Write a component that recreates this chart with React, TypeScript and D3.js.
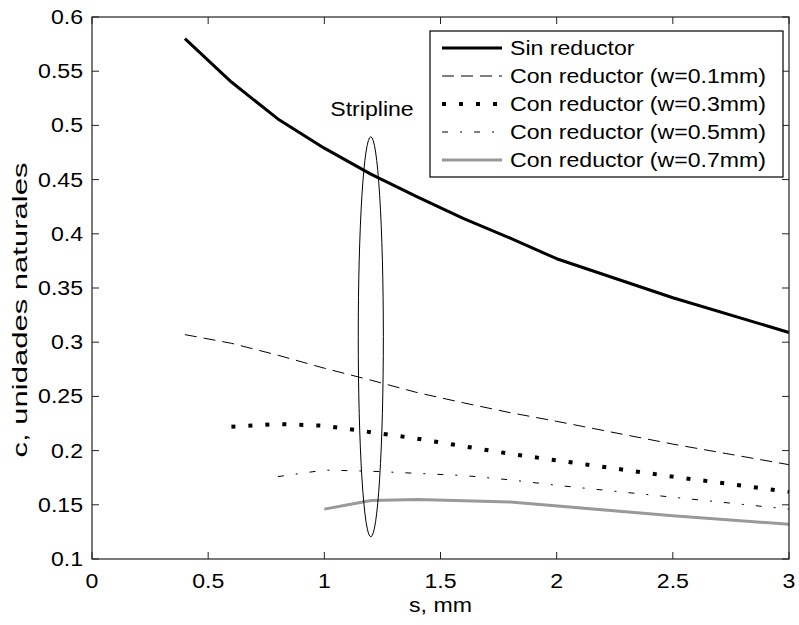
import React from "react";
import * as d3 from "d3";

const sinX = [0.4, 0.6, 0.8, 1.0, 1.2, 1.4, 1.6, 1.8, 2.0, 2.5, 3.0];
const sinY = [0.58, 0.54, 0.506, 0.479, 0.455, 0.434, 0.414, 0.396, 0.377, 0.341, 0.309];

const w01X = [0.4, 0.6, 0.8, 1.0, 1.2, 1.4, 1.6, 1.8, 2.0, 2.5, 3.0];
const w01Y = [0.307, 0.299, 0.288, 0.276, 0.265, 0.2535, 0.244, 0.235, 0.227, 0.206, 0.187];

const w03X = [0.6, 0.8, 1.0, 1.2, 1.4, 1.6, 1.8, 2.0, 2.5, 3.0];
const w03Y = [0.222, 0.2245, 0.223, 0.217, 0.211, 0.204, 0.197, 0.191, 0.176, 0.162];

const w05X = [0.8, 1.0, 1.2, 1.4, 1.6, 1.8, 2.0, 2.5, 3.0];
const w05Y = [0.176, 0.182, 0.181, 0.179, 0.177, 0.173, 0.168, 0.157, 0.146];

const w07X = [1.0, 1.2, 1.4, 1.8, 2.5, 3.0];
const w07Y = [0.146, 0.154, 0.155, 0.1525, 0.14, 0.132];

const xTicks = [0, 0.5, 1, 1.5, 2, 2.5, 3];
const yTicks = [0.1, 0.15, 0.2, 0.25, 0.3, 0.35, 0.4, 0.45, 0.5, 0.55, 0.6];

const legendLabels = [
  "Sin reductor",
  "Con reductor (w=0.1mm)",
  "Con reductor (w=0.3mm)",
  "Con reductor (w=0.5mm)",
  "Con reductor (w=0.7mm)",
];

const ellipseCenter = [1.2, 0.305];
const ellipseRadii = [0.054, 0.1845];

const W = 799;
const H = 625;
const L = 92, R = 789, T = 17, B = 559;
const FONT = "'Liberation Sans', Arial, Helvetica, sans-serif";
const SX = 1.1;

function T2({ x, y, anchor = "start", size = 21, children }: any) {
  return (
    <g transform={`translate(${x},${y}) scale(${SX},1)`}>
      <text x={0} y={0} fontFamily={FONT} fontSize={size} textAnchor={anchor} fill="#000">
        {children}
      </text>
    </g>
  );
}

export default function App() {
  const x = d3.scaleLinear().domain([0, 3]).range([L, R]);
  const y = d3.scaleLinear().domain([0.1, 0.6]).range([B, T]);
  const line = d3
    .line<[number, number]>()
    .x((d) => x(d[0]))
    .y((d) => y(d[1]));
  const pts = (xs: number[], ys: number[]) => xs.map((v, i) => [v, ys[i]] as [number, number]);

  const styles = [
    { stroke: "#000", width: 3, dash: undefined as string | undefined },
    { stroke: "#000", width: 1, dash: "12,7" },
    { stroke: "#000", width: 4, dash: "4,13" },
    { stroke: "#000", width: 1, dash: "6,12,2,12" },
    { stroke: "#999", width: 3, dash: undefined },
  ];
  const series = [
    pts(sinX, sinY),
    pts(w01X, w01Y),
    pts(w03X, w03Y),
    pts(w05X, w05Y),
    pts(w07X, w07Y),
  ];

  const tickLen = 7;
  const legX = 430, legY = 31, legW = 353, legH = 146;
  const rowY = (i: number) => 48 + i * 28;

  return (
    <svg width={W} height={H} style={{ position: "absolute", left: 0, top: 0, background: "#fff" }}>
      <rect x={0} y={0} width={W} height={H} fill="#fff" />
      {series.map((s, i) => (
        <path
          key={i}
          d={line(s) || ""}
          fill="none"
          stroke={styles[i].stroke}
          strokeWidth={styles[i].width}
          strokeDasharray={styles[i].dash}
          strokeLinecap="butt"
          strokeLinejoin="round"
        />
      ))}
      <ellipse
        cx={x(ellipseCenter[0])}
        cy={y(ellipseCenter[1])}
        rx={x(ellipseRadii[0]) - x(0)}
        ry={y(0.1) - y(0.1 + ellipseRadii[1])}
        fill="none"
        stroke="#000"
        strokeWidth={1}
      />
      <T2 x={372} y={116} anchor="middle">Stripline</T2>
      <rect x={L} y={T} width={R - L} height={B - T} fill="none" stroke="#222" strokeWidth={1.2} />
      {xTicks.map((t) => (
        <g key={"x" + t}>
          <line x1={x(t)} x2={x(t)} y1={B} y2={B - tickLen} stroke="#222" />
          <line x1={x(t)} x2={x(t)} y1={T} y2={T + tickLen} stroke="#222" />
          <T2 x={x(t)} y={B + 29} anchor="middle">{String(t)}</T2>
        </g>
      ))}
      {yTicks.map((t) => (
        <g key={"y" + t}>
          <line x1={L} x2={L + tickLen} y1={y(t)} y2={y(t)} stroke="#222" />
          <line x1={R} x2={R - tickLen} y1={y(t)} y2={y(t)} stroke="#222" />
          <T2 x={L - 9} y={y(t) + 7} anchor="end">{String(t)}</T2>
        </g>
      ))}
      <T2 x={(L + R) / 2} y={612} anchor="middle">s, mm</T2>
      <text
        transform={`translate(27, 310) rotate(-90)`}
        fontFamily={FONT}
        fontSize={21}
        textAnchor="middle"
        fill="#000"
        textLength={295}
        lengthAdjust="spacingAndGlyphs"
      >
        c, unidades naturales
      </text>
      <rect x={legX} y={legY} width={legW} height={legH} fill="#fff" stroke="#000" strokeWidth={1.2} />
      {legendLabels.map((lab, i) => (
        <g key={lab}>
          <line
            x1={442}
            x2={502}
            y1={rowY(i)}
            y2={rowY(i)}
            stroke={styles[i].stroke}
            strokeWidth={styles[i].width}
            strokeDasharray={styles[i].dash}
          />
          <T2 x={510} y={rowY(i) + 7}>{lab}</T2>
        </g>
      ))}
    </svg>
  );
}
